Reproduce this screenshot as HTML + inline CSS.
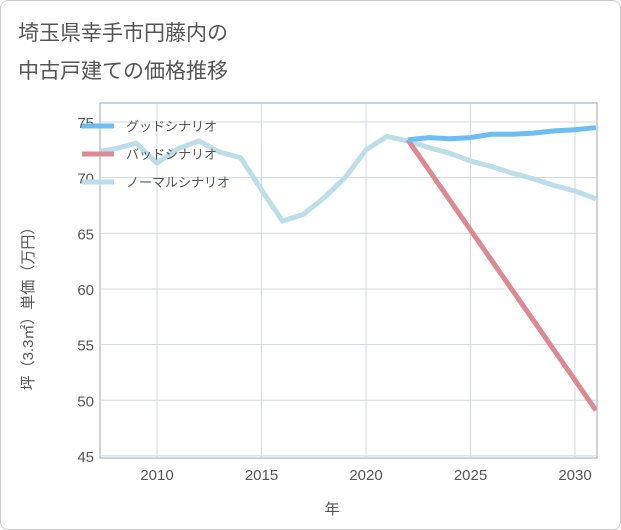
<!DOCTYPE html>
<html><head><meta charset="utf-8"><style>
body{margin:0;background:#fff;font-family:"Liberation Sans","Noto Sans CJK JP",sans-serif;}
#wrap{position:relative;width:619px;height:528px;border:1px solid #ccc;border-radius:8px;overflow:hidden;background:#fff}
</style></head><body>
<div id="wrap">
<svg id="chart" width="621" height="530" style="position:absolute;left:-1px;top:-1px">
<text x="18" y="40" font-size="21" fill="#555">埼玉県幸手市円藤内の</text>
<text x="18" y="78" font-size="21" fill="#555">中古戸建ての価格推移</text>
<g id="grid"></g><g id="series"></g><g id="axes"></g><g id="legend"></g>
</svg></div>
<script>
const years=[2007,2008,2009,2010,2011,2012,2013,2014,2015,2016,2017,2018,2019,2020,2021,2022,2023,2024,2025,2026,2027,2028,2029,2030,2031];
const normalVals=[72.3,72.6,73.1,71.3,72.6,73.3,72.3,71.8,68.9,66.1,66.7,68.2,70.0,72.5,73.7,73.3,72.7,72.2,71.5,71.0,70.4,69.9,69.3,68.8,68.1];
const futureYears=[2022,2023,2024,2025,2026,2027,2028,2029,2030,2031];
const goodVals=[73.4,73.6,73.5,73.6,73.9,73.9,74.0,74.2,74.3,74.5];
const badVals=[73.4,70.7,68.0,65.3,62.6,59.9,57.2,54.5,51.8,49.1];
const xTicks=[2010,2015,2020,2025,2030];
const yTicks=[45,50,55,60,65,70,75];
const L=100,R=597,T=103,B=458;
const x=v=>157+(v-2010)*20.9;
const y=v=>122+(75-v)*11.13;
const NS="http://www.w3.org/2000/svg";
function mk(tag,attrs,parent){const e=document.createElementNS(NS,tag);for(const k in attrs)e.setAttribute(k,attrs[k]);parent.appendChild(e);return e;}
const svg=document.getElementById('chart');
const defs=mk('defs',{},svg);const cp=mk('clipPath',{id:'cp'},defs);mk('rect',{x:L,y:T,width:R-L,height:B-T},cp);
const grid=document.getElementById('grid');
const bg=mk('rect',{x:L,y:T,width:R-L,height:B-T,fill:'#fff',stroke:'#9aa8b4'},grid);


const axes=document.getElementById('axes');
xTicks.forEach(t=>{
 const l=mk('line',{x1:x(t),x2:x(t),y1:T,y2:B,stroke:'#d0d8de'},grid);
 
 
 const tx=mk('text',{x:x(t),y:480,'font-size':15,fill:'#555','text-anchor':'middle'},axes);
 tx.textContent=t;
 
 
});
yTicks.forEach(t=>{
 const l=mk('line',{x1:L,x2:R,y1:y(t),y2:y(t),stroke:'#d0d8de'},grid);
 
 
 const tx=mk('text',{x:94,y:y(t)+6,'font-size':15,fill:'#555','text-anchor':'end'},axes);
 tx.textContent=t;
 
 
});
const xt=mk('text',{x:332,y:514,'font-size':15,fill:'#555','text-anchor':'middle'},axes);
xt.textContent='年';


const yt=mk('text',{x:0,y:0,'font-size':15,fill:'#555','text-anchor':'middle',transform:'translate(33,305) rotate(-90)'},axes);
yt.textContent='坪（3.3㎡）単価（万円）';


const ser=document.getElementById('series');
function line(xs,vs,color,name){
 const p=mk('polyline',{points:xs.map((v,i)=>x(v)+','+y(vs[i])).join(' '),fill:'none',stroke:color,'stroke-width':5,'stroke-linejoin':'round','clip-path':'url(#cp)'},ser);
 
 
}
line(years,normalVals,'#bcdeea','normal-scenario-line');
line(futureYears,badVals,'#dc8a92','bad-scenario-line');
line(futureYears,goodVals,'#6cbdf2','good-scenario-line');
const leg=document.getElementById('legend');
[['グッドシナリオ','#6cbdf2'],['バッドシナリオ','#dc8a92'],['ノーマルシナリオ','#bcdeea']].forEach((d,i)=>{
 const g=mk('g',{},leg);
 
 
 const yy=126+i*28;
 mk('line',{x1:82,x2:114,y1:yy,y2:yy,stroke:d[1],'stroke-width':5},g);
 const t=mk('text',{x:126,y:yy+5,'font-size':13,fill:'#555'},g);t.textContent=d[0];
});
</script>
</body></html>
